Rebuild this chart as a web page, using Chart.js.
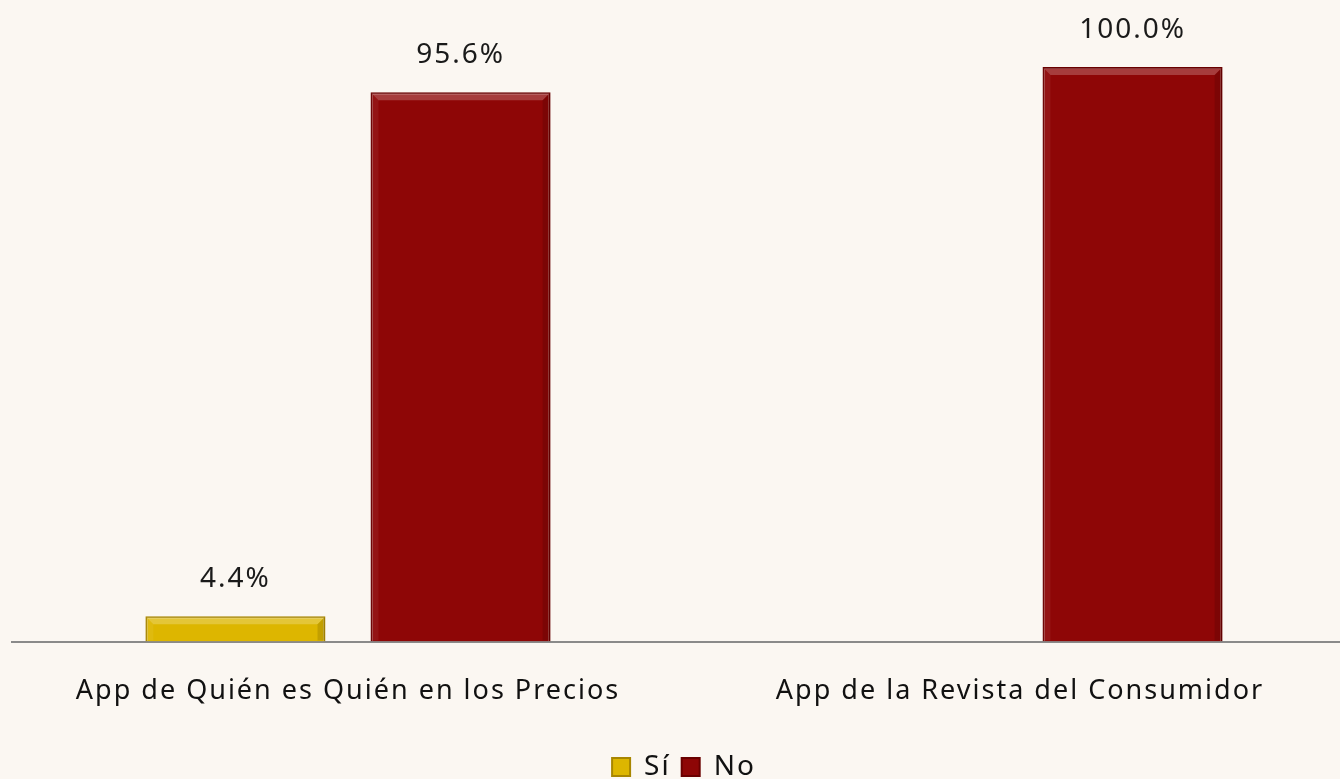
<!DOCTYPE html>
<html>
<head>
<meta charset="utf-8">
<script src="https://cdn.jsdelivr.net/npm/chart.js@4"></script>
<style>
    html, body { margin: 0; padding: 0; overflow: hidden; background: #fbf7f2; }
    #wrap { width: 1356px; height: 779px; }
</style>
</head>
<body>
<div id="wrap"><canvas id="barChart"></canvas></div>
<script>
const categories = ["App de Quién es Quién en los Precios", "App de la Revista del Consumidor"];
const siValues = [4.4, null];
const noValues = [95.6, 100.0];
const seriesNames = ["Sí", "No"];

const FONT = "'Noto Sans', sans-serif";

// the original text is a bit spaced out, so widen letters a little
const spacing = {
    id: "spacing",
    beforeUpdate(chart) { chart.ctx.letterSpacing = "2px"; },
    beforeDraw(chart) { chart.ctx.letterSpacing = "2px"; }
};

// soft bevel on the bars, like the office-style chart
const bevel = {
    id: "bevel",
    afterDatasetsDraw(chart) {
        const ctx = chart.ctx;
        const b = 7;
        ctx.save();
        chart.data.datasets.forEach((ds, i) => {
            chart.getDatasetMeta(i).data.forEach((bar, j) => {
                if (ds.data[j] === null) return;
                const l = bar.x - bar.width / 2 + 1, r = bar.x + bar.width / 2 - 1;
                const t = bar.y + 1, btm = bar.base - 1;
                const side = (pts, col) => {
                    ctx.beginPath();
                    ctx.moveTo(pts[0][0], pts[0][1]);
                    pts.slice(1).forEach(p => ctx.lineTo(p[0], p[1]));
                    ctx.closePath();
                    ctx.fillStyle = col;
                    ctx.fill();
                };
                side([[l, t], [r, t], [r - b, t + b], [l + b, t + b]], "rgba(255,255,255,0.22)");
                side([[r, t], [r, btm], [r - b, btm], [r - b, t + b]], "rgba(0,0,0,0.12)");
                side([[l, t], [l + b, t + b], [l + b, btm], [l, btm]], "rgba(255,255,255,0.06)");
            });
        });
        ctx.restore();
    }
};

// draws the percentage above each bar
const valueLabels = {
    id: "valueLabels",
    afterDatasetsDraw(chart) {
        const ctx = chart.ctx;
        ctx.save();
        ctx.font = "28px " + FONT;
        ctx.fillStyle = "#1a1a1a";
        ctx.textAlign = "center";
        ctx.textBaseline = "middle";
        chart.data.datasets.forEach((ds, i) => {
            chart.getDatasetMeta(i).data.forEach((bar, j) => {
                const v = ds.data[j];
                if (v === null || v === undefined) return;
                ctx.fillText(v.toFixed(1) + "%", bar.x, bar.y - 37);
            });
        });
        ctx.restore();
    }
};

const ctxBar = document.getElementById("barChart").getContext("2d");
new Chart(ctxBar, {
    type: "bar",
    data: {
        labels: categories,
        datasets: [{
            label: seriesNames[0],
            data: siValues,
            backgroundColor: "#ddb600",
            borderColor: "#a88600",
            borderWidth: 2
        }, {
            label: seriesNames[1],
            data: noValues,
            backgroundColor: "#8e0606",
            borderColor: "#6a0000",
            borderWidth: 2
        }]
    },
    plugins: [spacing, bevel, valueLabels],
    options: {
        responsive: true,
        maintainAspectRatio: false,
        animation: false,
        datasets: {
            bar: { categoryPercentage: 0.67, barPercentage: 0.8 }
        },
        layout: { padding: { top: 67, left: 12, right: 0, bottom: 0 } },
        plugins: {
            legend: {
                position: "bottom",
                maxHeight: 37,
                labels: {
                    font: { family: FONT, size: 28 },
                    color: "#111",
                    boxWidth: 18,
                    boxHeight: 18,
                    padding: 11
                }
            },
            tooltip: { enabled: false }
        },
        scales: {
            x: {
                grid: { display: false, drawTicks: false },
                border: { display: true, color: "#8a8a8a", width: 2 },
                ticks: {
                    font: { family: FONT, size: 27 },
                    color: "#111",
                    padding: 34
                }
            },
            y: {
                display: false,
                beginAtZero: true,
                max: 100
            }
        }
    }
});
</script>
</body>
</html>
